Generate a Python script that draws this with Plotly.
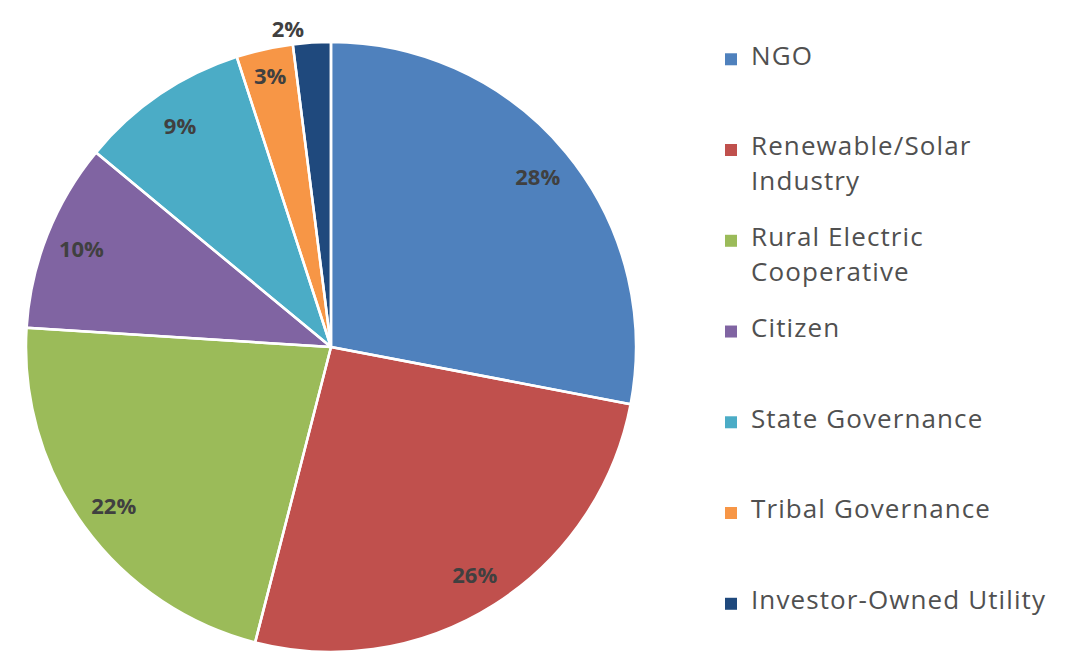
import plotly.graph_objects as go

categories = ["NGO", "Renewable/Solar Industry", "Rural Electric Cooperative", "Citizen",
              "State Governance", "Tribal Governance", "Investor-Owned Utility"]
legend_lines = [["NGO"], ["Renewable/Solar", "Industry"], ["Rural Electric", "Cooperative"],
                ["Citizen"], ["State Governance"], ["Tribal Governance"], ["Investor-Owned Utility"]]
values = [28, 26, 22, 10, 9, 3, 2]
colors = ["#4F81BD", "#C0504D", "#9BBB59", "#8064A2", "#4BACC6", "#F79646", "#1F497D"]

SPAN = "<span style='font-size:26px;letter-spacing:1.1px'>{}</span>"
BLANK = "&nbsp;"


def legend_label(lines, last=False):
    parts = [SPAN.format(lines[0])]
    if last:
        return parts[0]
    parts.append(BLANK)
    parts.append(SPAN.format(lines[1]) if len(lines) > 1 else BLANK)
    parts += [BLANK, BLANK]
    return "<br>".join(parts)


legend_labels = [legend_label(l, i == len(legend_lines) - 1) for i, l in enumerate(legend_lines)]

# page body has an 8px margin, so pixel positions are offset by 8
domain = dict(x=[16 / 1076, 630 / 1076], y=[1 - 644 / 652, 1 - 34 / 652])
transparent = ["rgba(0,0,0,0)"] * len(values)

fig = go.Figure()
# coloured slices (also feed the legend)
fig.add_trace(go.Pie(
    labels=legend_labels, values=values, sort=False, direction="clockwise", rotation=0,
    marker=dict(colors=colors, line=dict(width=0)),
    textinfo="none", hoverinfo="skip", domain=domain, showlegend=True,
))
# white slice borders
fig.add_trace(go.Pie(
    labels=categories, values=values, sort=False, direction="clockwise", rotation=0,
    marker=dict(colors=transparent, line=dict(color="white", width=2.5)),
    textinfo="none", hoverinfo="skip", domain=domain, showlegend=False,
))
# percentage labels placed in an outer ring
fig.add_trace(go.Pie(
    labels=categories, values=values, sort=False, direction="clockwise", rotation=0,
    hole=0.76,
    marker=dict(colors=transparent, line=dict(width=0)),
    texttemplate="%{value}%", textposition=["inside"] * 6 + ["outside"],
    insidetextorientation="horizontal",
    textfont=dict(family="Open Sans", size=22, color="#404040", weight="bold"),
    outsidetextfont=dict(family="Open Sans", size=22, color="#404040", weight="bold"),
    hoverinfo="skip", domain=domain, showlegend=False,
))

fig.update_layout(
    width=1076, height=652,
    margin=dict(l=0, r=0, t=0, b=0),
    paper_bgcolor="white", plot_bgcolor="white",
    font=dict(family="Open Sans", color="#555555"),
    legend=dict(
        x=703 / 1076, xanchor="left", y=1 - 36 / 652, yanchor="top",
        font=dict(family="Open Sans", size=13.5, color="#505050"),
        valign="top", traceorder="normal", bgcolor="rgba(0,0,0,0)",
    ),
)

fig.write_html("out.html")
